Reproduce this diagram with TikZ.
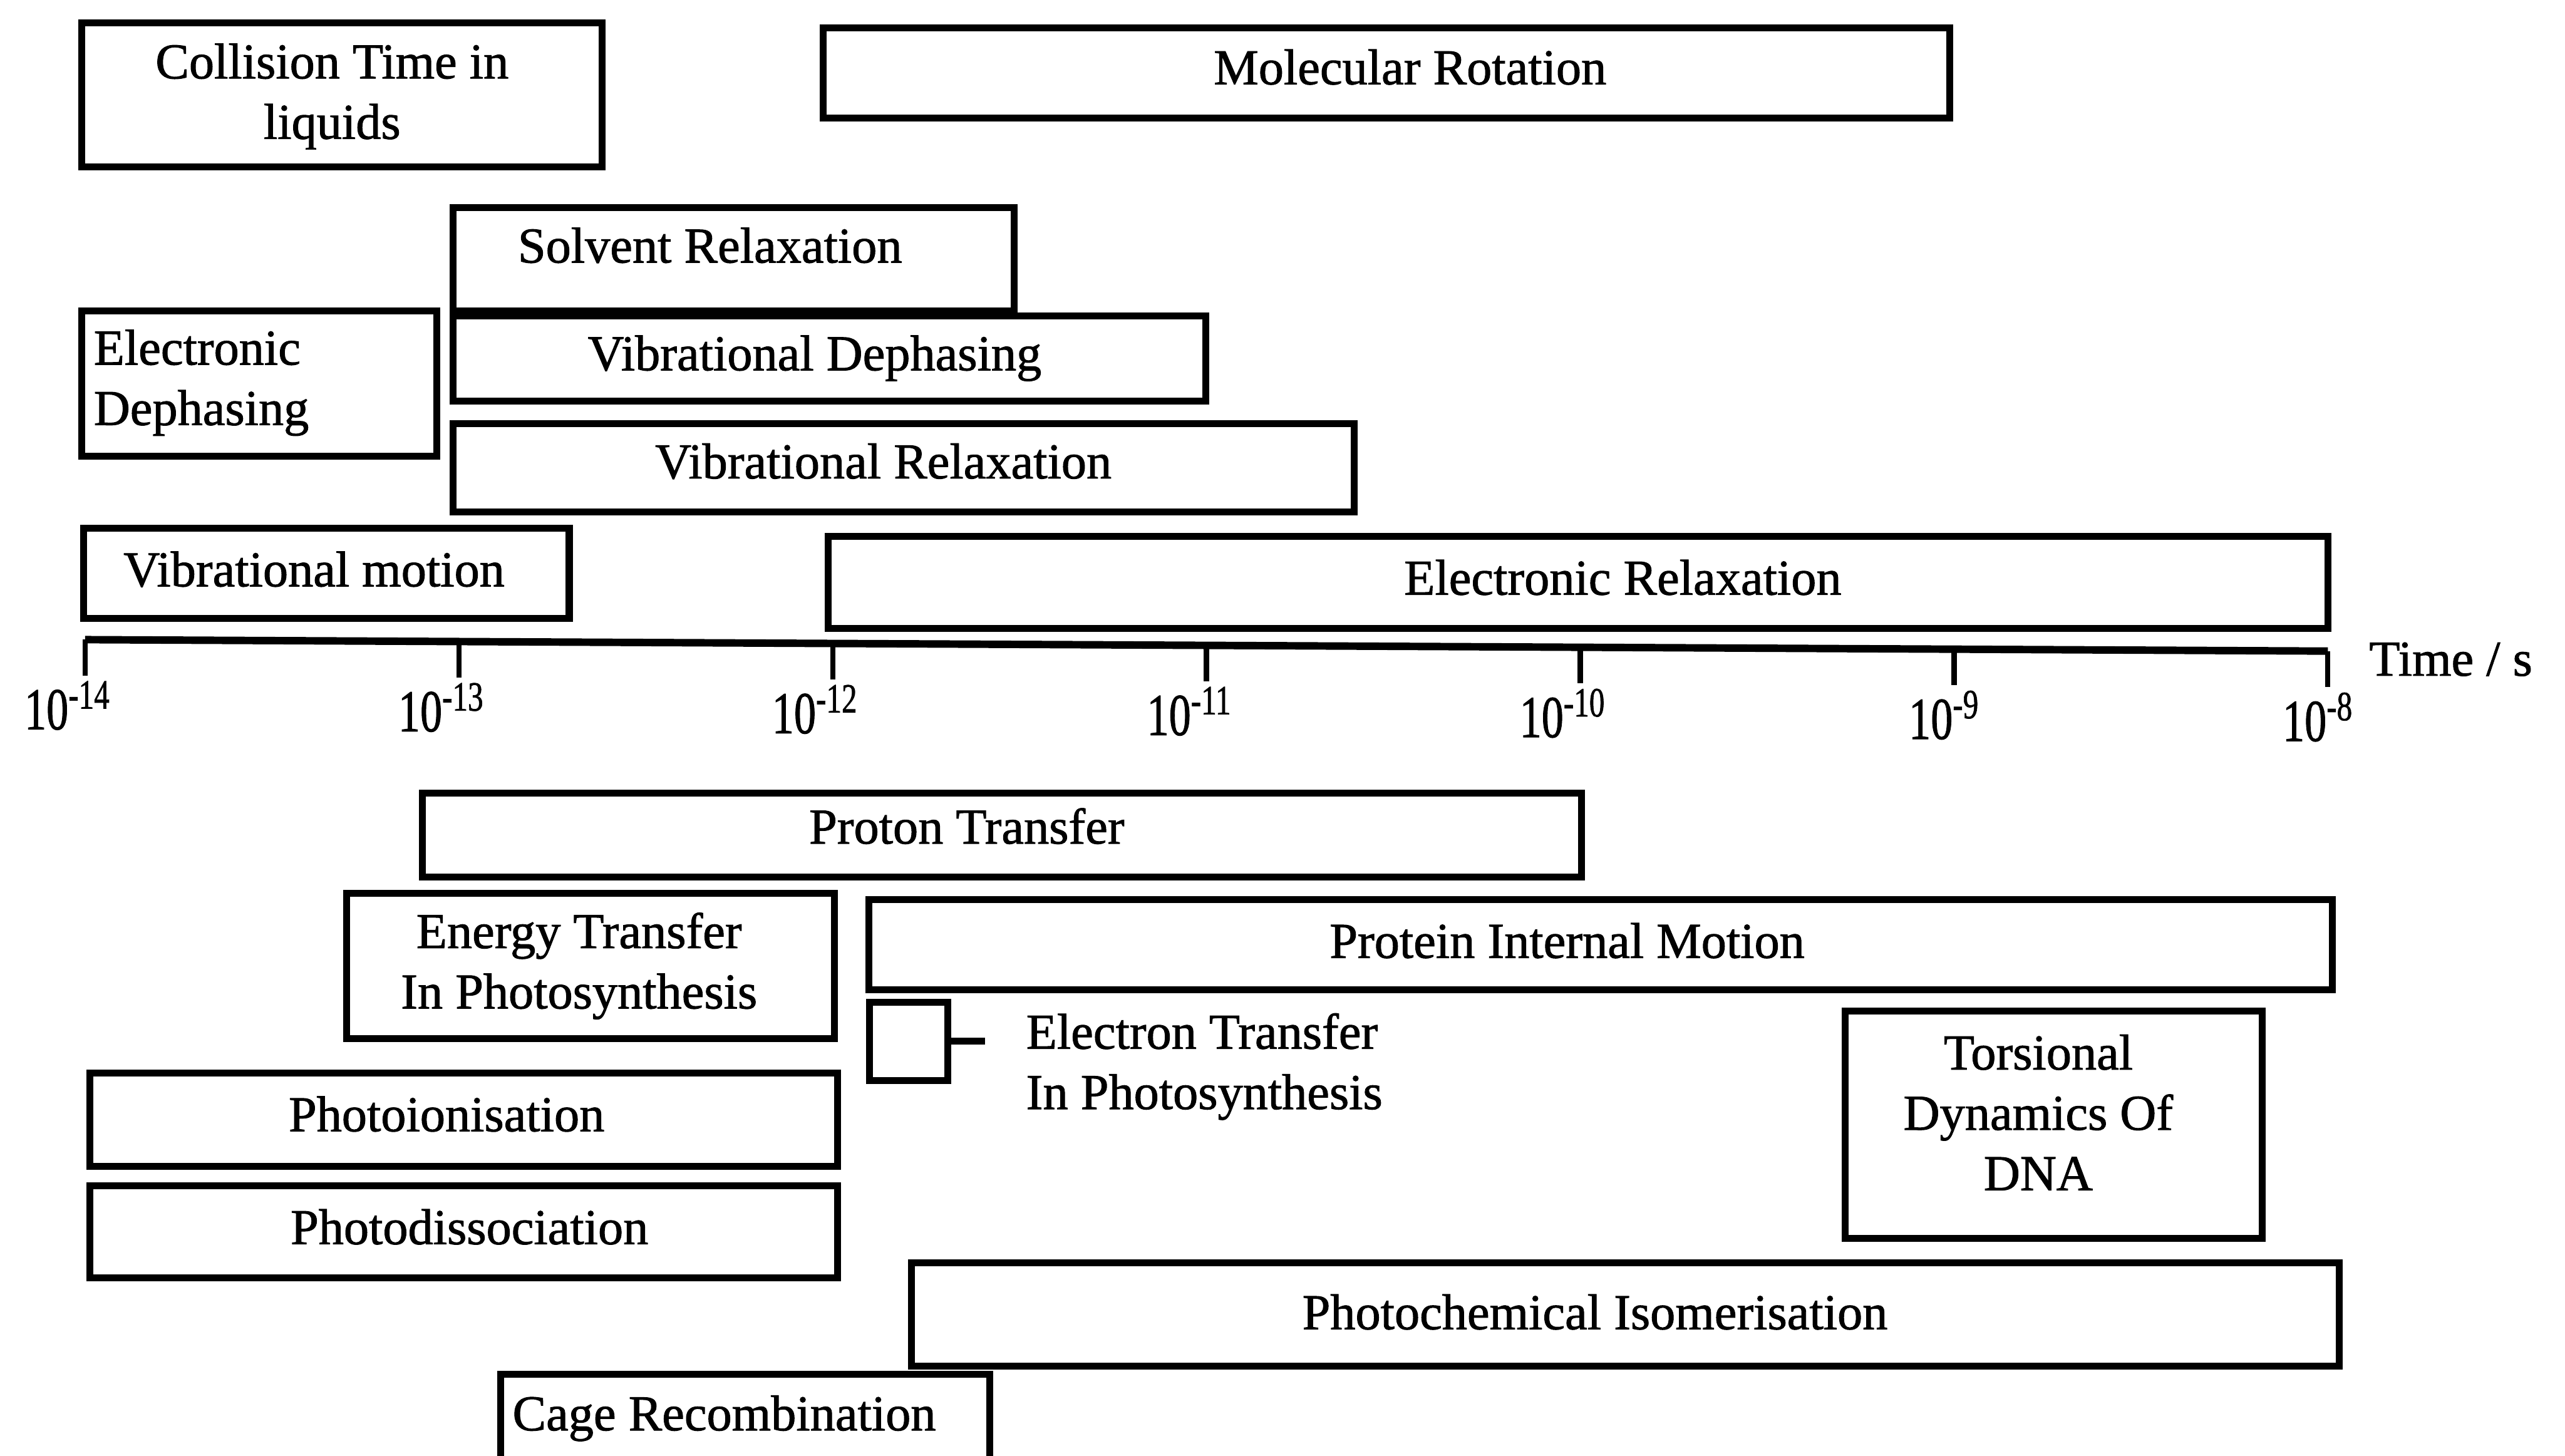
\documentclass[tikz,border=0pt]{standalone}
\usepackage{fontspec}
\setmainfont{Liberation Serif}[FakeBold=1.2]
\usetikzlibrary{positioning,calc}

\tikzset{
  bar/.style={draw, line width=2.4pt, inner sep=0pt},
  boxtext/.style={inner sep=0pt, align=center, font=\fontsize{17.5}{21}\selectfont},
  lefttext/.style={boxtext, align=left, anchor=west},
  ticklabel/.style={inner sep=0pt, font=\fontsize{18}{20}\selectfont},
}

\begin{document}
\begin{tikzpicture}[x=0.02cm, y=-0.02cm]
    \useasboundingbox (0,0) rectangle (1568,890);
    \clip (0,0) rectangle (1568,890);

    % processes above the axis
    \node[bar, minimum width=6.36cm, minimum height=1.76cm] (collision) at (209,58) {};
    \node[boxtext] (collision-t) at (203,59) {Collision Time in\\liquids};
    \node[bar, minimum width=13.78cm, minimum height=1.1cm] (molrot) at (847.5,44.5) {};
    \node[boxtext] (molrot-t) at (862,41) {Molecular Rotation};
    \node[bar, minimum width=6.86cm, minimum height=1.26cm] (solvent) at (448.5,158.5) {};
    \node[boxtext] (solvent-t) at (434,150) {Solvent Relaxation};
    \node[bar, minimum width=4.34cm, minimum height=1.78cm] (eldeph) at (158.5,234.5) {};
    \node[lefttext] (eldeph-t) at (57,234) {Electronic\\Dephasing};
    \node[bar, minimum width=9.2cm, minimum height=1.04cm] (vibdeph) at (507,219) {};
    \node[boxtext] (vibdeph-t) at (498,219) {Vibrational Dephasing};
    \node[bar, minimum width=11.02cm, minimum height=1.08cm] (vibrel) at (552.5,286) {};
    \node[boxtext] (vibrel-t) at (540,282) {Vibrational Relaxation};
    \node[bar, minimum width=5.94cm, minimum height=1.1cm] (vibmot) at (199.5,350.5) {};
    \node[boxtext] (vibmot-t) at (192,348) {Vibrational motion};
    \node[bar, minimum width=18.34cm, minimum height=1.12cm] (elrel) at (964.5,356) {};
    \node[boxtext] (elrel-t) at (992,353) {Electronic Relaxation};

    % time axis
    \foreach \e [count=\i from 0] in {14,13,12,11,10,9,8} {
        \coordinate (tick\e) at ({52+228.5*\i},{391+7*\i/6});
        \draw[line width=1.8pt] (tick\e) -- ++(0,22) coordinate (tickend\e);
        \node[ticklabel, anchor=north east] (lab\e) at ($(tickend\e)+(16,3)$)
            {\scalebox{0.85}[1.15]{10\textsuperscript{-\e}}};
    }
    \draw[line width=2.6pt] (tick14) -- (tick8);
    \node[lefttext] (timelabel) at (1448,403) {Time / s};

    % processes below the axis
    \node[bar, minimum width=14.18cm, minimum height=1.02cm] (proton) at (612.5,510.5) {};
    \node[boxtext] (proton-t) at (591,505) {Proton Transfer};
    \node[bar, minimum width=5.96cm, minimum height=1.78cm] (energy) at (361,590.5) {};
    \node[boxtext] (energy-t) at (354,590.5) {Energy Transfer\\In Photosynthesis};
    \node[bar, minimum width=17.9cm, minimum height=1.1cm] (protein) at (978.5,577.5) {};
    \node[boxtext] (protein-t) at (958,575) {Protein Internal Motion};
    \node[bar, minimum width=0.96cm, minimum height=0.96cm] (etbox) at (555.5,636.5) {};
    \coordinate (etend) at (602,636.5);
    \draw[line width=2.4pt] (etbox.east) -- (etend);
    \node[lefttext] (et-t) at (627,652) {Electron Transfer\\In Photosynthesis};
    \node[bar, minimum width=5.1cm, minimum height=2.78cm] (torsion) at (1255.5,687.5) {};
    \node[boxtext] (torsion-t) at (1246,680) {Torsional\\Dynamics Of\\DNA};
    \node[bar, minimum width=9.14cm, minimum height=1.14cm] (photoion) at (283.5,684.5) {};
    \node[boxtext] (photoion-t) at (273,681) {Photoionisation};
    \node[bar, minimum width=9.14cm, minimum height=1.12cm] (photodis) at (283.5,753) {};
    \node[boxtext] (photodis-t) at (287,750) {Photodissociation};
    \node[bar, minimum width=17.46cm, minimum height=1.26cm] (isomer) at (993.5,803.5) {};
    \node[boxtext] (isomer-t) at (975,802) {Photochemical Isomerisation};
    \node[bar, minimum width=5.98cm, minimum height=1.4cm] (cage) at (455.5,875) {};
    \node[lefttext] (cage-t) at (313,867) {Cage Recombination};
\end{tikzpicture}
\end{document}
